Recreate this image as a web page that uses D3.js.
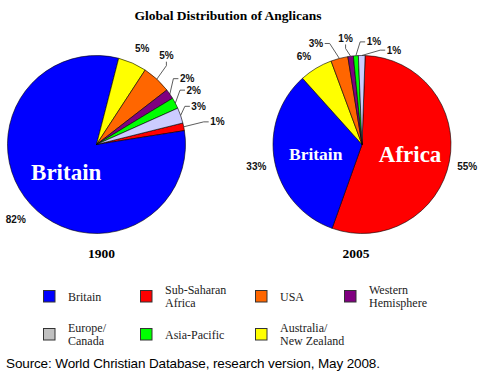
<!DOCTYPE html>
<html>
<head>
<meta charset="utf-8">
<script src="https://cdn.jsdelivr.net/npm/d3@7/dist/d3.min.js"></script>
<style>
  html, body { margin: 0; padding: 0; background: #fff; }
  svg { display: block; }
</style>
</head>
<body>
<svg id="chart" width="483" height="379"></svg>
<script>
// ---------------- DATA ----------------
const categories = ["Sub-Saharan Africa", "Britain", "Australia/New Zealand", "USA",
                    "Western Hemisphere", "Asia-Pacific", "Europe/Canada"];
const values1900 = [1.4, 81.5, 5.2, 5.3, 1.8, 2.0, 2.8];
const values2005 = [54.9, 32.9, 6.0, 3.1, 1.0, 0.9, 1.2];
const labels1900 = ["1%", "82%", "5%", "5%", "2%", "2%", "3%"];
const labels2005 = ["55%", "33%", "6%", "3%", "1%", "1%", "1%"];
const years = ["1900", "2005"];
const title = "Global Distribution of Anglicans";
const source = "Source: World Christian Database, research version, May 2008.";
const legendItems = ["Britain", "Sub-Saharan Africa", "USA", "Western Hemisphere",
                     "Europe/Canada", "Asia-Pacific", "Australia/New Zealand"];
const legendLines = [["Britain"], ["Sub-Saharan", "Africa"], ["USA"], ["Western", "Hemisphere"],
                     ["Europe/", "Canada"], ["Asia-Pacific"], ["Australia/", "New Zealand"]];

// ---------------- STYLE / LAYOUT ----------------
const sliceColor = {
  "Sub-Saharan Africa": "#FF0000", "Britain": "#0000FF", "Australia/New Zealand": "#FFFF00",
  "USA": "#FF6600", "Western Hemisphere": "#800080", "Asia-Pacific": "#00FF00",
  "Europe/Canada": "#CCCCFF"
};
const legendColor = Object.assign({}, sliceColor, {"Europe/Canada": "#C0C0C0"});

const pies = [
  { values: values1900, labels: labels1900, year: years[0], cx: 96.5, cy: 144.5, r: 89, start: 76, yearX: 101.5,
    // label polar placement (deg clockwise from north, distance px)
    labelPolar: [[79.4, 123], [227.2, 110], [25.5, 106], [38.2, 113], [54, 112], [60.8, 111.4], [69.5, 109]],
    leader: [true, false, false, true, true, true, true],
    inner: [{ idx: 1, text: "Britain", size: 23, dist: 0.46 }] },
  { values: values2005, labels: labels2005, year: years[1], cx: 362, cy: 144.5, r: 89, start: 2, yearX: 356,
    labelPolar: [[102, 107.6], [258, 108], [326.7, 105.7], [335.5, 111], [351.2, 107.3], [6.6, 103.3], [18.7, 99.6]],
    leader: [false, false, false, true, true, true, true],
    inner: [{ idx: 1, text: "Britain", size: 17.5, dist: 0.53 }, { idx: 0, text: "Africa", size: 23, dist: 0.55 }] }
];

const svg = d3.select("#chart");
const rad = d => d * Math.PI / 180;
const polar = (cx, cy, a, d) => [cx + d * Math.sin(rad(a)), cy - d * Math.cos(rad(a))];

// Title
svg.append("text")
  .attr("x", 228).attr("y", 20)
  .attr("text-anchor", "middle")
  .style("font-family", "'Liberation Serif', 'Times New Roman', serif")
  .style("font-weight", "bold").style("font-size", "13.5px")
  .text(title);

pies.forEach(p => {
  const g = svg.append("g").attr("transform", `translate(${p.cx},${p.cy})`);
  const pie = d3.pie().sort(null).value(d => d)
    .startAngle(rad(p.start)).endAngle(rad(p.start + 360));
  const arcs = pie(p.values);
  const arc = d3.arc().innerRadius(0).outerRadius(p.r);

  g.selectAll("path.slice").data(arcs).enter().append("path")
    .attr("class", "slice")
    .attr("d", arc)
    .attr("fill", (d, i) => sliceColor[categories[i]])
    .attr("stroke", "#000").attr("stroke-width", 0.6).attr("stroke-linejoin", "round");

  // Inner big labels
  p.inner.forEach(it => {
    const a = arcs[it.idx];
    const mid = (a.startAngle + a.endAngle) / 2 * 180 / Math.PI;
    const [x, y] = polar(0, 0, mid, p.r * it.dist);
    g.append("text")
      .attr("x", x).attr("y", y).attr("dy", "0.35em")
      .attr("text-anchor", "middle")
      .style("font-family", "'Liberation Serif', 'Times New Roman', serif")
      .style("font-weight", "bold").style("font-size", it.size + "px")
      .attr("fill", "#fff")
      .text(it.text);
  });

  // Percent labels and leader lines
  arcs.forEach((a, i) => {
    const [lx, ly] = polar(0, 0, p.labelPolar[i][0], p.labelPolar[i][1]);
    const t = g.append("text")
      .attr("x", lx).attr("y", ly).attr("dy", "0.35em")
      .attr("text-anchor", "middle")
      .style("font-family", "'Liberation Sans', Arial, sans-serif")
      .style("font-weight", "bold").style("font-size", "10px")
      .attr("fill", "#111")
      .text(p.labels[i]);
    if (p.leader[i]) {
      const w = t.node().getComputedTextLength();
      const h = 10;
      const mid = (a.startAngle + a.endAngle) / 2 * 180 / Math.PI;
      const [ex, ey] = polar(0, 0, mid, p.r);
      const dx = lx - ex, dy = ly - ey;
      let pts;
      if (Math.abs(dy) > 1.5 * Math.abs(dx)) {
        const ay = ly + h / 2 + 1;
        pts = [[ex, ey], [lx, ay + 4], [lx, ay]];
      } else {
        const ax = dx > 0 ? lx - w / 2 - 1.5 : lx + w / 2 + 1.5;
        const sx = dx > 0 ? ax - 5 : ax + 5;
        pts = [[ex, ey], [sx, ly], [ax, ly]];
      }
      g.append("path")
        .attr("d", d3.line()(pts))
        .attr("fill", "none").attr("stroke", "#333").attr("stroke-width", 0.8);
    }
  });

  // Year label
  svg.append("text")
    .attr("x", p.yearX).attr("y", 258)
    .attr("text-anchor", "middle")
    .style("font-family", "'Liberation Serif', 'Times New Roman', serif")
    .style("font-weight", "bold").style("font-size", "13.5px")
    .text(p.year);
});

// Legend
const colX = [43, 140, 255, 344];
const rowY = [290, 328];
legendItems.forEach((name, i) => {
  const col = i % 4, row = Math.floor(i / 4);
  const x = colX[col], y = rowY[row];
  svg.append("rect")
    .attr("x", x + 0.5).attr("y", y + 0.5).attr("width", 11.5).attr("height", 11.5)
    .attr("fill", legendColor[name]).attr("stroke", "#333").attr("stroke-width", 1);
  const lines = legendLines[i];
  const t = svg.append("text")
    .attr("x", x + 25)
    .style("font-family", "'Liberation Serif', 'Times New Roman', serif")
    .style("font-size", "12px").attr("fill", "#222");
  const lh = 13.5;
  const y0 = y + 6.5 - (lines.length - 1) * lh / 2;
  lines.forEach((ln, j) => {
    t.append("tspan").attr("x", x + 25).attr("y", y0 + j * lh).attr("dy", "0.35em").text(ln);
  });
});

// Source
svg.append("text")
  .attr("x", 6).attr("y", 367.5)
  .attr("textLength", 374).attr("lengthAdjust", "spacing")
  .style("font-family", "'Liberation Sans', Arial, sans-serif")
  .style("font-size", "13.5px").attr("fill", "#000")
  .text(source);
</script>
</body>
</html>
